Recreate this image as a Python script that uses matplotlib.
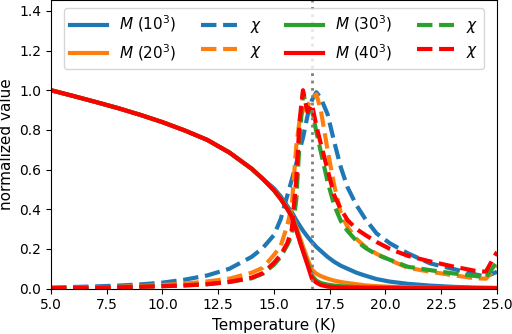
import matplotlib
matplotlib.use("Agg")
import matplotlib.pyplot as plt

# Temperature grid (K)
temps = [5.0, 6.0, 7.0, 8.0, 9.0, 10.0, 11.0, 12.0, 13.0, 14.0, 14.5, 15.0,
         15.3, 15.6, 15.8, 16.0, 16.15, 16.3, 16.5, 16.7, 16.9, 17.1, 17.4,
         17.7, 18.0, 18.3, 18.7, 19.1, 19.6, 20.2, 21.0, 22.0, 23.0, 24.0,
         24.5, 25.0]

# Magnetisation, normalized
m_low = [1.0, 0.971, 0.941, 0.910, 0.876, 0.839, 0.797, 0.750, 0.686, 0.604,
         0.553]
mag_10 = m_low + [0.505, 0.465, 0.415, 0.385, 0.345, 0.318, 0.292, 0.262,
                  0.235, 0.210, 0.190, 0.160, 0.135, 0.115, 0.100, 0.080,
                  0.065, 0.048, 0.035, 0.024, 0.015, 0.009, 0.005, 0.004,
                  0.003]
mag_20 = m_low + [0.497, 0.455, 0.405, 0.372, 0.312, 0.262, 0.212, 0.150,
                  0.095, 0.075, 0.063, 0.050, 0.040, 0.033, 0.028, 0.022,
                  0.016, 0.012, 0.009, 0.006, 0.004, 0.003, 0.002, 0.002,
                  0.002]
mag_30 = m_low + [0.495, 0.452, 0.402, 0.366, 0.300, 0.245, 0.192, 0.130,
                  0.065, 0.040, 0.028, 0.020, 0.015, 0.012, 0.010, 0.008,
                  0.007, 0.006, 0.005, 0.004, 0.004, 0.003, 0.003, 0.003,
                  0.003]
mag_40 = m_low + [0.495, 0.452, 0.400, 0.362, 0.295, 0.240, 0.188, 0.120,
                  0.050, 0.030, 0.018, 0.010, 0.007, 0.005, 0.004, 0.004,
                  0.003, 0.003, 0.003, 0.002, 0.002, 0.002, 0.002, 0.002,
                  0.002]

# Susceptibility, normalized
chi_10 = [0.005, 0.008, 0.011, 0.015, 0.021, 0.030, 0.045, 0.066, 0.100,
          0.160, 0.205, 0.270, 0.350, 0.470, 0.550, 0.630, 0.700, 0.760,
          0.870, 0.950, 0.990, 0.960, 0.880, 0.740, 0.610, 0.510, 0.420,
          0.350, 0.278, 0.228, 0.178, 0.127, 0.100, 0.072, 0.060, 0.085]
chi_20 = [0.003, 0.004, 0.006, 0.009, 0.013, 0.018, 0.025, 0.036, 0.050,
          0.080, 0.105, 0.170, 0.215, 0.320, 0.420, 0.720, 0.850, 0.900,
          0.920, 0.960, 0.980, 0.900, 0.700, 0.520, 0.380, 0.310, 0.250,
          0.210, 0.175, 0.143, 0.105, 0.085, 0.068, 0.052, 0.050, 0.110]
chi_30 = [0.002, 0.003, 0.004, 0.006, 0.009, 0.012, 0.016, 0.022, 0.033,
          0.052, 0.075, 0.120, 0.160, 0.220, 0.270, 0.450, 0.750, 0.990,
          0.900, 0.900, 0.790, 0.690, 0.540, 0.420, 0.340, 0.290, 0.240,
          0.205, 0.172, 0.145, 0.110, 0.093, 0.077, 0.064, 0.056, 0.135]
chi_40 = [0.002, 0.003, 0.004, 0.006, 0.009, 0.012, 0.016, 0.022, 0.034,
          0.055, 0.078, 0.130, 0.170, 0.230, 0.300, 0.550, 0.850, 1.000,
          0.890, 0.930, 0.820, 0.730, 0.600, 0.470, 0.400, 0.345, 0.300,
          0.270, 0.235, 0.200, 0.165, 0.137, 0.112, 0.090, 0.085, 0.185]

sizes = ["10", "20", "30", "40"]
mags = [mag_10, mag_20, mag_30, mag_40]
chis = [chi_10, chi_20, chi_30, chi_40]
colors = ["tab:blue", "tab:orange", "tab:green", "red"]
t_critical = 16.72

fig = plt.figure(figsize=(5.12, 3.34), dpi=100)
ax = fig.add_axes([0.0996, 0.136, 0.8711, 0.864])

handles = {}
for size, m, chi, color in zip(sizes, mags, chis, colors):
    (h_m,) = ax.plot(temps, m, color=color, linewidth=3,
                     label=rf"$M$ (${size}^3$)")
    (h_c,) = ax.plot(temps, chi, color=color, linewidth=3, linestyle="--",
                     label=r"$\chi$")
    handles[size] = (h_m, h_c)

ax.axvline(t_critical, color="gray", linestyle=":", linewidth=2)

ax.set_xlim(5, 25)
ax.set_ylim(0, 1.455)
ax.set_xlabel("Temperature (K)", fontsize=11)
ax.set_ylabel("normalized value", fontsize=11)
ax.tick_params(labelsize=10)

# column-wise legend order: M, M | chi, chi | M, M | chi, chi
order = [handles["10"][0], handles["20"][0], handles["10"][1], handles["20"][1],
         handles["30"][0], handles["40"][0], handles["30"][1], handles["40"][1]]
ax.legend(order, [h.get_label() for h in order], ncol=4, loc="upper center",
          fontsize=11, columnspacing=1.6, handlelength=2.4)

fig.savefig("out.png", dpi=100)
